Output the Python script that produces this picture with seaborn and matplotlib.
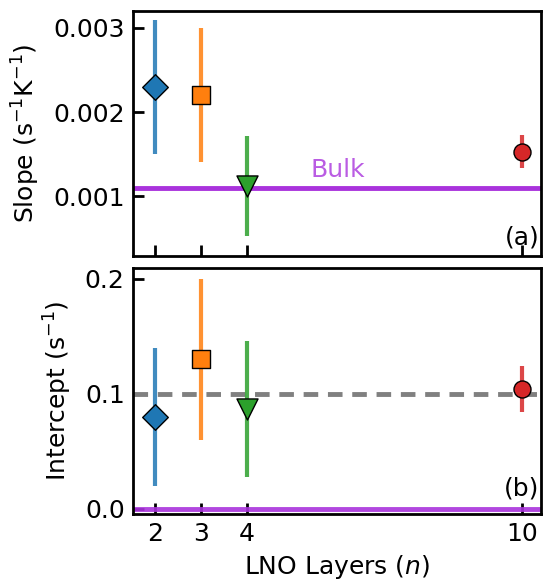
import pandas as pd
import seaborn as sns
import matplotlib.pyplot as plt

layers = [2, 3, 4, 10]
colors = ["#1f77b4", "#ff7f0e", "#2ca02c", "#d62728"]
markers = ["D", "s", "v", "o"]
msizes = [170, 170, 230, 150]

slope = [0.0023, 0.0022, 0.00112, 0.00153]
slope_err = [0.0008, 0.0008, 0.0006, 0.0002]
intercept = [0.080, 0.130, 0.087, 0.104]
intercept_err = [0.060, 0.070, 0.059, 0.020]

bulk_slope = 0.0011
bulk_intercept = 0.0
ref_intercept = 0.1

sns.set_style("ticks")
plt.rcParams['font.family'] = ['DejaVu Sans']
plt.rcParams['mathtext.fontset'] = 'dejavusans'
for k in ['text.color', 'axes.labelcolor', 'axes.edgecolor', 'xtick.color', 'ytick.color']:
    plt.rcParams[k] = 'black'

fs = 18
fig = plt.figure(figsize=(5.43, 5.84), dpi=100)
ax1 = fig.add_axes([0.245, 0.562, 0.751, 0.419])
ax2 = fig.add_axes([0.245, 0.120, 0.751, 0.421])

df = pd.DataFrame({"n": layers, "slope": slope, "slope_err": slope_err,
                   "intercept": intercept, "intercept_err": intercept_err})

purple = "#a933dc"

for ax, col, ecol in [(ax1, "slope", "slope_err"), (ax2, "intercept", "intercept_err")]:
    for i, row in df.iterrows():
        ax.errorbar(row["n"], row[col], yerr=row[ecol], fmt='none',
                    ecolor=colors[i], elinewidth=3, alpha=0.85, zorder=3)
        sns.scatterplot(x=[row["n"]], y=[row[col]], ax=ax, marker=markers[i],
                        s=msizes[i], color=colors[i], edgecolor='black',
                        linewidth=1, zorder=4, legend=False)

ax1.axhline(bulk_slope, color=purple, lw=3.5, zorder=2)
ax1.text(5.98, bulk_slope + 0.00007, "Bulk", color=purple, alpha=0.8,
         fontsize=fs, ha='center', va='bottom')
ax2.axhline(ref_intercept, color='gray', lw=3.5, ls=(0, (3, 2)), zorder=2)
ax2.axhline(bulk_intercept, color=purple, lw=3.5, alpha=0.9, zorder=2)

ax1.set_ylim(0.00029, 0.0032)
ax1.set_yticks([0.001, 0.002, 0.003])
ax1.set_yticklabels(["0.001", "0.002", "0.003"])
ax2.set_ylim(-0.0045, 0.2095)
ax2.set_yticks([0.0, 0.1, 0.2])
ax2.set_yticklabels(["0.0", "0.1", "0.2"])

for ax in (ax1, ax2):
    ax.set_xlim(1.52, 10.41)
    ax.set_xticks(layers)
    ax.tick_params(direction='in', length=8, width=2, labelsize=fs, pad=6)
    for s in ax.spines.values():
        s.set_linewidth(2)
ax1.set_xticklabels([])
ax2.set_xticklabels([str(n) for n in layers])

ax1.set_ylabel("Slope (s$^{-1}$K$^{-1}$)", fontsize=fs, labelpad=8)
ax2.set_ylabel("Intercept (s$^{-1}$)", fontsize=fs, labelpad=8)
ax2.set_xlabel("LNO Layers ($n$)", fontsize=fs, labelpad=5)

ax1.text(10, 0.00036, "(a)", ha='center', va='bottom', fontsize=fs)
ax2.text(10, 0.007, "(b)", ha='center', va='bottom', fontsize=fs)

fig.savefig("out.png", dpi=100)
